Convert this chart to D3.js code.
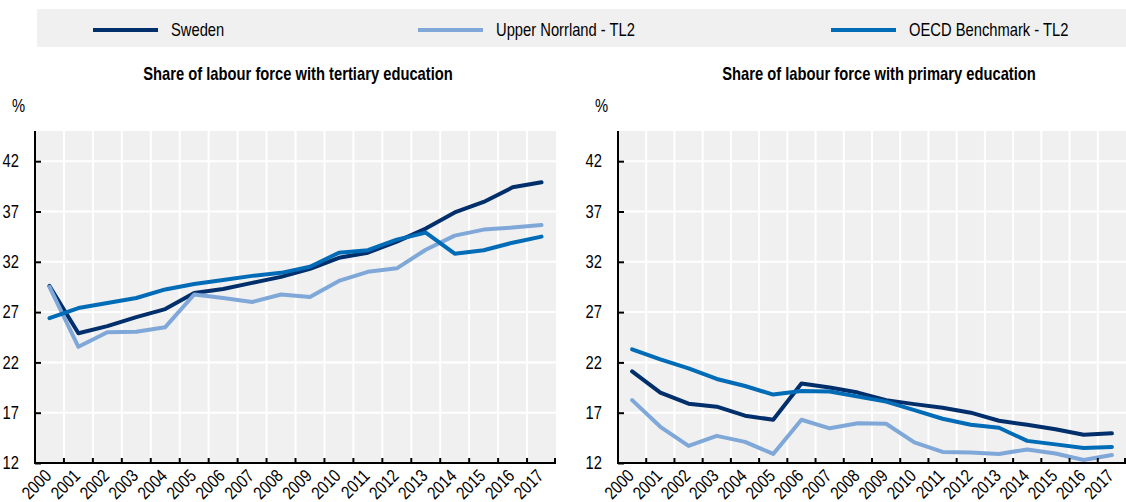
<!DOCTYPE html>
<html>
<head>
<meta charset="utf-8">
<script src="https://cdn.jsdelivr.net/npm/d3@7"></script>
<style>
  html, body { margin: 0; padding: 0; background: #ffffff; }
  svg { display: block; font-family: "Liberation Sans", Arial, sans-serif; }
</style>
</head>
<body>
<svg id="chart" width="1126" height="502"></svg>
<script>
// Years on the horizontal axis
const years = [2000, 2001, 2002, 2003, 2004, 2005, 2006, 2007, 2008,
               2009, 2010, 2011, 2012, 2013, 2014, 2015, 2016, 2017];

// Y axis ticks (%)
const yTicks = [12, 17, 22, 27, 32, 37, 42];

const seriesNames = ["Sweden", "Upper Norrland - TL2", "OECD Benchmark - TL2"];
const seriesColors = ["#002f6c", "#7fa8d9", "#006bb6"];

// Share of labour force with tertiary education (%)
const tertiarySweden = [29.6, 24.9, 25.6, 26.5, 27.3, 28.9, 29.3, 29.9, 30.5,
                        31.3, 32.4, 32.9, 34.0, 35.3, 36.9, 37.95, 39.4, 39.9];
const tertiaryNorrland = [29.5, 23.55, 25.0, 25.05, 25.5, 28.75, 28.4, 28.0, 28.75,
                          28.5, 30.1, 31.0, 31.35, 33.2, 34.6, 35.2, 35.4, 35.65];
const tertiaryOECD = [26.4, 27.4, 27.9, 28.4, 29.25, 29.8, 30.2, 30.6, 30.9,
                      31.5, 32.9, 33.15, 34.2, 34.9, 32.8, 33.15, 33.9, 34.5];

// Share of labour force with primary education (%)
const primarySweden = [21.1, 19.0, 17.9, 17.6, 16.7, 16.3, 19.9, 19.5, 19.0,
                       18.25, 17.85, 17.5, 17.0, 16.2, 15.8, 15.35, 14.8, 14.95];
const primaryNorrland = [18.25, 15.6, 13.7, 14.7, 14.1, 12.9, 16.3, 15.45, 15.95,
                         15.9, 14.05, 13.1, 13.05, 12.9, 13.35, 12.95, 12.3, 12.8];
const primaryOECD = [23.3, 22.3, 21.4, 20.35, 19.65, 18.8, 19.15, 19.1, 18.6,
                     18.1, 17.25, 16.4, 15.8, 15.5, 14.2, 13.85, 13.5, 13.6];

const svg = d3.select("#chart");

// Condensed lettering: regular glyphs squeezed horizontally
const SQUEEZE = 0.82;
function placeText(sel, x, y, rot) {
  return sel.attr("transform",
    `translate(${x},${y})` + (rot ? ` rotate(${rot})` : "") + ` scale(${SQUEEZE},1)`);
}

// ---- Legend ----
const legend = svg.append("g");
legend.append("rect")
  .attr("x", 37).attr("y", 9).attr("width", 1089).attr("height", 38)
  .attr("fill", "#f0f0f0");
const legendX = [93, 418, 831];
seriesNames.forEach((name, i) => {
  legend.append("line")
    .attr("x1", legendX[i]).attr("x2", legendX[i] + 65)
    .attr("y1", 30).attr("y2", 30)
    .attr("stroke", seriesColors[i]).attr("stroke-width", 4);
  legend.append("text")
    .attr("font-size", 18).attr("fill", "#000")
    .text(name)
    .call(placeText, legendX[i] + 78, 36);
});

// ---- Panels ----
const panels = [
  { title: "Share of labour force with tertiary education", titleX: 298,
    left: 35, right: 556, series: [tertiarySweden, tertiaryNorrland, tertiaryOECD] },
  { title: "Share of labour force with primary education", titleX: 879,
    left: 618, right: 1126, series: [primarySweden, primaryNorrland, primaryOECD] }
];

const plotTop = 131, plotBottom = 463;
const y = d3.scaleLinear().domain([12, 45]).range([plotBottom, plotTop]);

panels.forEach(p => {
  const g = svg.append("g");
  const x = d3.scaleBand().domain(years).range([p.left, p.right]).padding(0);

  // title
  g.append("text")
    .attr("text-anchor", "middle")
    .attr("font-size", 18).attr("font-weight", "bold")
    .text(p.title)
    .call(placeText, p.titleX, 80);

  // unit label
  g.append("text")
    .attr("font-size", 18)
    .text("%")
    .call(placeText, p.left - 23, 112);

  // plot background
  g.append("rect")
    .attr("x", p.left).attr("y", plotTop)
    .attr("width", p.right - p.left).attr("height", plotBottom - plotTop)
    .attr("fill", "#f0f0f0");

  // horizontal grid
  g.selectAll(".hgrid").data(yTicks).join("line")
    .attr("x1", p.left).attr("x2", p.right)
    .attr("y1", d => y(d)).attr("y2", d => y(d))
    .attr("stroke", "#ffffff").attr("stroke-width", 2);

  // vertical grid at band boundaries
  const bounds = years.slice(1).map(yr => x(yr));
  g.selectAll(".vgrid").data(bounds).join("line")
    .attr("x1", d => d).attr("x2", d => d)
    .attr("y1", plotTop).attr("y2", plotBottom)
    .attr("stroke", "#ffffff").attr("stroke-width", 2);

  // series lines
  const line = d3.line()
    .x((d, i) => x(years[i]) + x.bandwidth() / 2)
    .y(d => y(d));
  p.series.forEach((vals, i) => {
    g.append("path")
      .datum(vals)
      .attr("d", line)
      .attr("fill", "none")
      .attr("stroke", seriesColors[i])
      .attr("stroke-width", 4)
      .attr("stroke-linejoin", "round")
      .attr("stroke-linecap", "round");
  });

  // y axis
  const yAxis = d3.axisLeft(y).tickValues(yTicks).tickSize(-6).tickPadding(16);
  const ya = g.append("g").attr("transform", `translate(${p.left},0)`).call(yAxis);
  ya.attr("font-family", null).attr("font-size", null);
  ya.select(".domain").remove();
  ya.selectAll(".tick line").attr("stroke", "#000").attr("stroke-width", 2);
  ya.selectAll(".tick text")
    .attr("font-size", 18).attr("fill", "#000")
    .attr("x", null)
    .attr("transform", `translate(-16,0) scale(${SQUEEZE},1)`);
  g.append("line")
    .attr("x1", p.left).attr("x2", p.left)
    .attr("y1", plotTop).attr("y2", plotBottom + 1)
    .attr("stroke", "#000").attr("stroke-width", 2);

  // x axis baseline and ticks at band boundaries
  g.append("line")
    .attr("x1", p.left).attr("x2", p.right)
    .attr("y1", plotBottom).attr("y2", plotBottom)
    .attr("stroke", "#000").attr("stroke-width", 2);
  g.selectAll(".xtick").data(bounds.concat([p.right - 1])).join("line")
    .attr("x1", d => d).attr("x2", d => d)
    .attr("y1", plotBottom).attr("y2", plotBottom - 5)
    .attr("stroke", "#000").attr("stroke-width", 2);

  // x labels
  g.selectAll(".xlab").data(years).join("text")
    .attr("text-anchor", "end")
    .attr("font-size", 18)
    .text(d => d)
    .each(function (d) {
      placeText(d3.select(this), x(d) + x.bandwidth() / 2 + 3, 477, -45);
    });
});
</script>
</body>
</html>
